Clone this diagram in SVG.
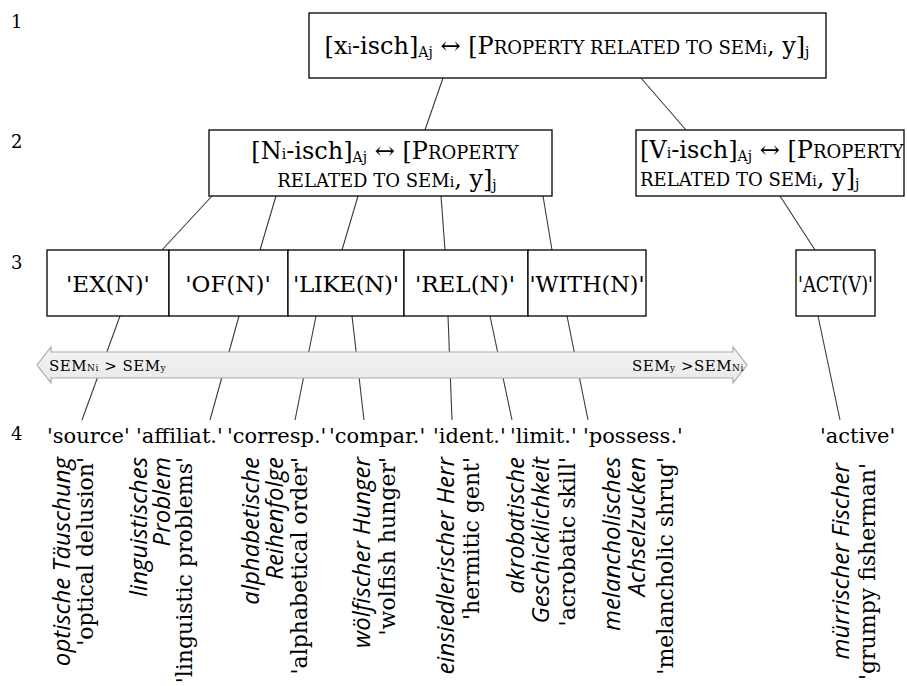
<svg xmlns="http://www.w3.org/2000/svg" width="907" height="686" viewBox="0 0 907 686">
  <defs>
    <style>
      .box { fill: #ffffff; stroke: #000000; stroke-width: 1.3; }
      .conn line { stroke: #3a3a3a; stroke-width: 1.1; }
      .serif { font-family: "DejaVu Serif", "Liberation Serif", serif; fill: #000000; }
      .rule { font-size: 24px; }
      .sc { font-size: 18px; }
      .sub { font-size: 14px; }
      .meaning { font-size: 23px; text-anchor: middle; }
      .gloss { font-size: 21px; }
      .row { font-size: 18px; }
      .de { font-family: "Open Sans", Lato, sans-serif; font-style: italic; font-size: 24px; text-anchor: end; fill: #000000; }
      .en { font-family: "DejaVu Serif", "Liberation Serif", serif; font-size: 22px; text-anchor: end; fill: #000000; }
      .band { fill: url(#bandFill); stroke: #a9a9a9; stroke-width: 1.2; }
      .bandtxt { font-family: "DejaVu Serif", "Liberation Serif", serif; font-size: 15px; fill: #000000; }
      .bandsub { font-size: 9px; }
    </style>
    <linearGradient id="bandFill" x1="0" y1="0" x2="0" y2="1">
      <stop offset="0" stop-color="#f4f4f4"/>
      <stop offset="1" stop-color="#e9e9e9"/>
    </linearGradient>
  </defs>

  <!-- level numbers -->
  <g id="levels" class="serif row">
    <text x="11" y="28">1</text>
    <text x="11" y="148">2</text>
    <text x="11" y="269">3</text>
    <text x="11" y="440">4</text>
  </g>

  <!-- connectors -->
  <g id="connectors" class="conn">
    <line x1="443" y1="78" x2="425" y2="130"/>
    <line x1="641" y1="78" x2="686" y2="130"/>
    <line x1="212" y1="196" x2="162" y2="250"/>
    <line x1="276" y1="196" x2="260" y2="250"/>
    <line x1="358" y1="196" x2="342" y2="250"/>
    <line x1="441" y1="196" x2="445" y2="250"/>
    <line x1="543" y1="196" x2="552" y2="250"/>
    <line x1="780" y1="196" x2="815" y2="250"/>
    <line x1="120" y1="316" x2="82" y2="420"/>
    <line x1="239" y1="316" x2="210" y2="420"/>
    <line x1="316" y1="316" x2="295" y2="420"/>
    <line x1="352" y1="316" x2="364" y2="420"/>
    <line x1="448" y1="316" x2="452" y2="420"/>
    <line x1="490" y1="316" x2="512" y2="420"/>
    <line x1="567" y1="316" x2="588" y2="420"/>
    <line x1="818" y1="316" x2="840" y2="420"/>
  </g>

  <!-- semantic scale band -->
  <g id="scale">
    <path class="band" d="M37,365 L51,347 L51,352 L733,352 L733,347 L747,365 L733,383 L733,378 L51,378 L51,383 Z"/>
    <text class="bandtxt" x="49" y="371" letter-spacing="0.5">SEM<tspan class="bandsub">Ni</tspan> &gt; SEM<tspan class="bandsub">y</tspan></text>
    <text class="bandtxt" x="632" y="371" letter-spacing="0.5">SEM<tspan class="bandsub">y</tspan> &gt;SEM<tspan class="bandsub">Ni</tspan></text>
  </g>

  <!-- level 1 -->
  <g id="n-x-isch">
    <rect class="box" x="309" y="13" width="517" height="65"/>
    <text class="serif rule" x="567" y="54" text-anchor="middle">[x<tspan class="sub">i</tspan>-isch]<tspan class="sub" dy="3">Aj</tspan><tspan dy="-3"> ↔ [P</tspan><tspan class="sc">ROPERTY RELATED TO SEM</tspan><tspan class="sub">i</tspan>, y]<tspan class="sub" dy="3">j</tspan></text>
  </g>

  <!-- level 2 -->
  <g id="n-N-isch">
    <rect class="box" x="209" y="130" width="343" height="66"/>
    <text class="serif rule" x="385" y="159" text-anchor="middle">[N<tspan class="sub">i</tspan>-isch]<tspan class="sub" dy="3">Aj</tspan><tspan dy="-3"> ↔ [P</tspan><tspan class="sc">ROPERTY</tspan></text>
    <text class="serif rule" x="387" y="187" text-anchor="middle"><tspan class="sc">RELATED TO SEM</tspan><tspan class="sub">i</tspan>, y]<tspan class="sub" dy="3">j</tspan></text>
  </g>
  <g id="n-V-isch">
    <rect class="box" x="636" y="130" width="268" height="66"/>
    <text class="serif rule" x="640" y="158">[V<tspan class="sub">i</tspan>-isch]<tspan class="sub" dy="3">Aj</tspan><tspan dy="-3"> ↔ [P</tspan><tspan class="sc">ROPERTY</tspan></text>
    <text class="serif rule" x="640" y="186"><tspan class="sc">RELATED TO SEM</tspan><tspan class="sub">i</tspan>, y]<tspan class="sub" dy="3">j</tspan></text>
  </g>

  <!-- level 3 -->
  <g id="n-ex">
    <rect class="box" x="47" y="250" width="122" height="66"/>
    <text class="serif meaning" x="108" y="292">'EX(N)'</text>
  </g>
  <g id="n-of">
    <rect class="box" x="169" y="250" width="119" height="66"/>
    <text class="serif meaning" x="228" y="292">'OF(N)'</text>
  </g>
  <g id="n-like">
    <rect class="box" x="288" y="250" width="116" height="66"/>
    <text class="serif meaning" x="346" y="292" textLength="106">'LIKE(N)'</text>
  </g>
  <g id="n-rel">
    <rect class="box" x="404" y="250" width="124" height="66"/>
    <text class="serif meaning" x="465" y="292">'REL(N)'</text>
  </g>
  <g id="n-with">
    <rect class="box" x="528" y="250" width="118" height="66"/>
    <text class="serif meaning" x="587" y="292" textLength="115" lengthAdjust="spacingAndGlyphs">'WITH(N)'</text>
  </g>
  <g id="n-act">
    <rect class="box" x="796" y="250" width="79" height="66"/>
    <text class="serif meaning" x="835.5" y="292" textLength="75" lengthAdjust="spacingAndGlyphs">'ACT(V)'</text>
  </g>

  <!-- level 4 -->
  <g id="n-source">
    <text class="serif gloss" x="47" y="443">'source'</text>
    <g transform="translate(0,457) rotate(-90)">
      <text class="de" x="0" y="70">optische Täuschung</text>
      <text class="en" x="0" y="93">'optical delusion'</text>
    </g>
  </g>
  <g id="n-affiliat">
    <text class="serif gloss" x="136" y="443">'affiliat.'</text>
    <g transform="translate(0,457) rotate(-90)">
      <text class="de" x="0" y="147">linguistisches</text>
      <text class="de" x="0" y="170">Problem</text>
      <text class="en" x="0" y="192">'linguistic problems'</text>
    </g>
  </g>
  <g id="n-corresp">
    <text class="serif gloss" x="227" y="443">'corresp.'</text>
    <g transform="translate(0,457) rotate(-90)">
      <text class="de" x="0" y="259">alphabetische</text>
      <text class="de" x="0" y="283">Reihenfolge</text>
      <text class="en" x="0" y="307">'alphabetical order'</text>
    </g>
  </g>
  <g id="n-compar">
    <text class="serif gloss" x="329" y="443">'compar.'</text>
    <g transform="translate(0,457) rotate(-90)">
      <text class="de" x="0" y="370">wölfischer Hunger</text>
      <text class="en" x="0" y="395">'wolfish hunger'</text>
    </g>
  </g>
  <g id="n-ident">
    <text class="serif gloss" x="433" y="443">'ident.'</text>
    <g transform="translate(0,457) rotate(-90)">
      <text class="de" x="0" y="454">einsiedlerischer Herr</text>
      <text class="en" x="0" y="479">'hermitic gent'</text>
    </g>
  </g>
  <g id="n-limit">
    <text class="serif gloss" x="510" y="443">'limit.'</text>
    <g transform="translate(0,457) rotate(-90)">
      <text class="de" x="0" y="524">akrobatische</text>
      <text class="de" x="0" y="549">Geschicklichkeit</text>
      <text class="en" x="0" y="575">'acrobatic skill'</text>
    </g>
  </g>
  <g id="n-possess">
    <text class="serif gloss" x="583" y="443">'possess.'</text>
    <g transform="translate(0,457) rotate(-90)">
      <text class="de" x="0" y="620">melancholisches</text>
      <text class="de" x="0" y="645">Achselzucken</text>
      <text class="en" x="0" y="673">'melancholic shrug'</text>
    </g>
  </g>
  <g id="n-active">
    <text class="serif gloss" x="820" y="443">'active'</text>
    <g transform="translate(0,463) rotate(-90)">
      <text class="de" x="0" y="849">mürrischer Fischer</text>
      <text class="en" x="0" y="875">'grumpy fisherman'</text>
    </g>
  </g>
</svg>
